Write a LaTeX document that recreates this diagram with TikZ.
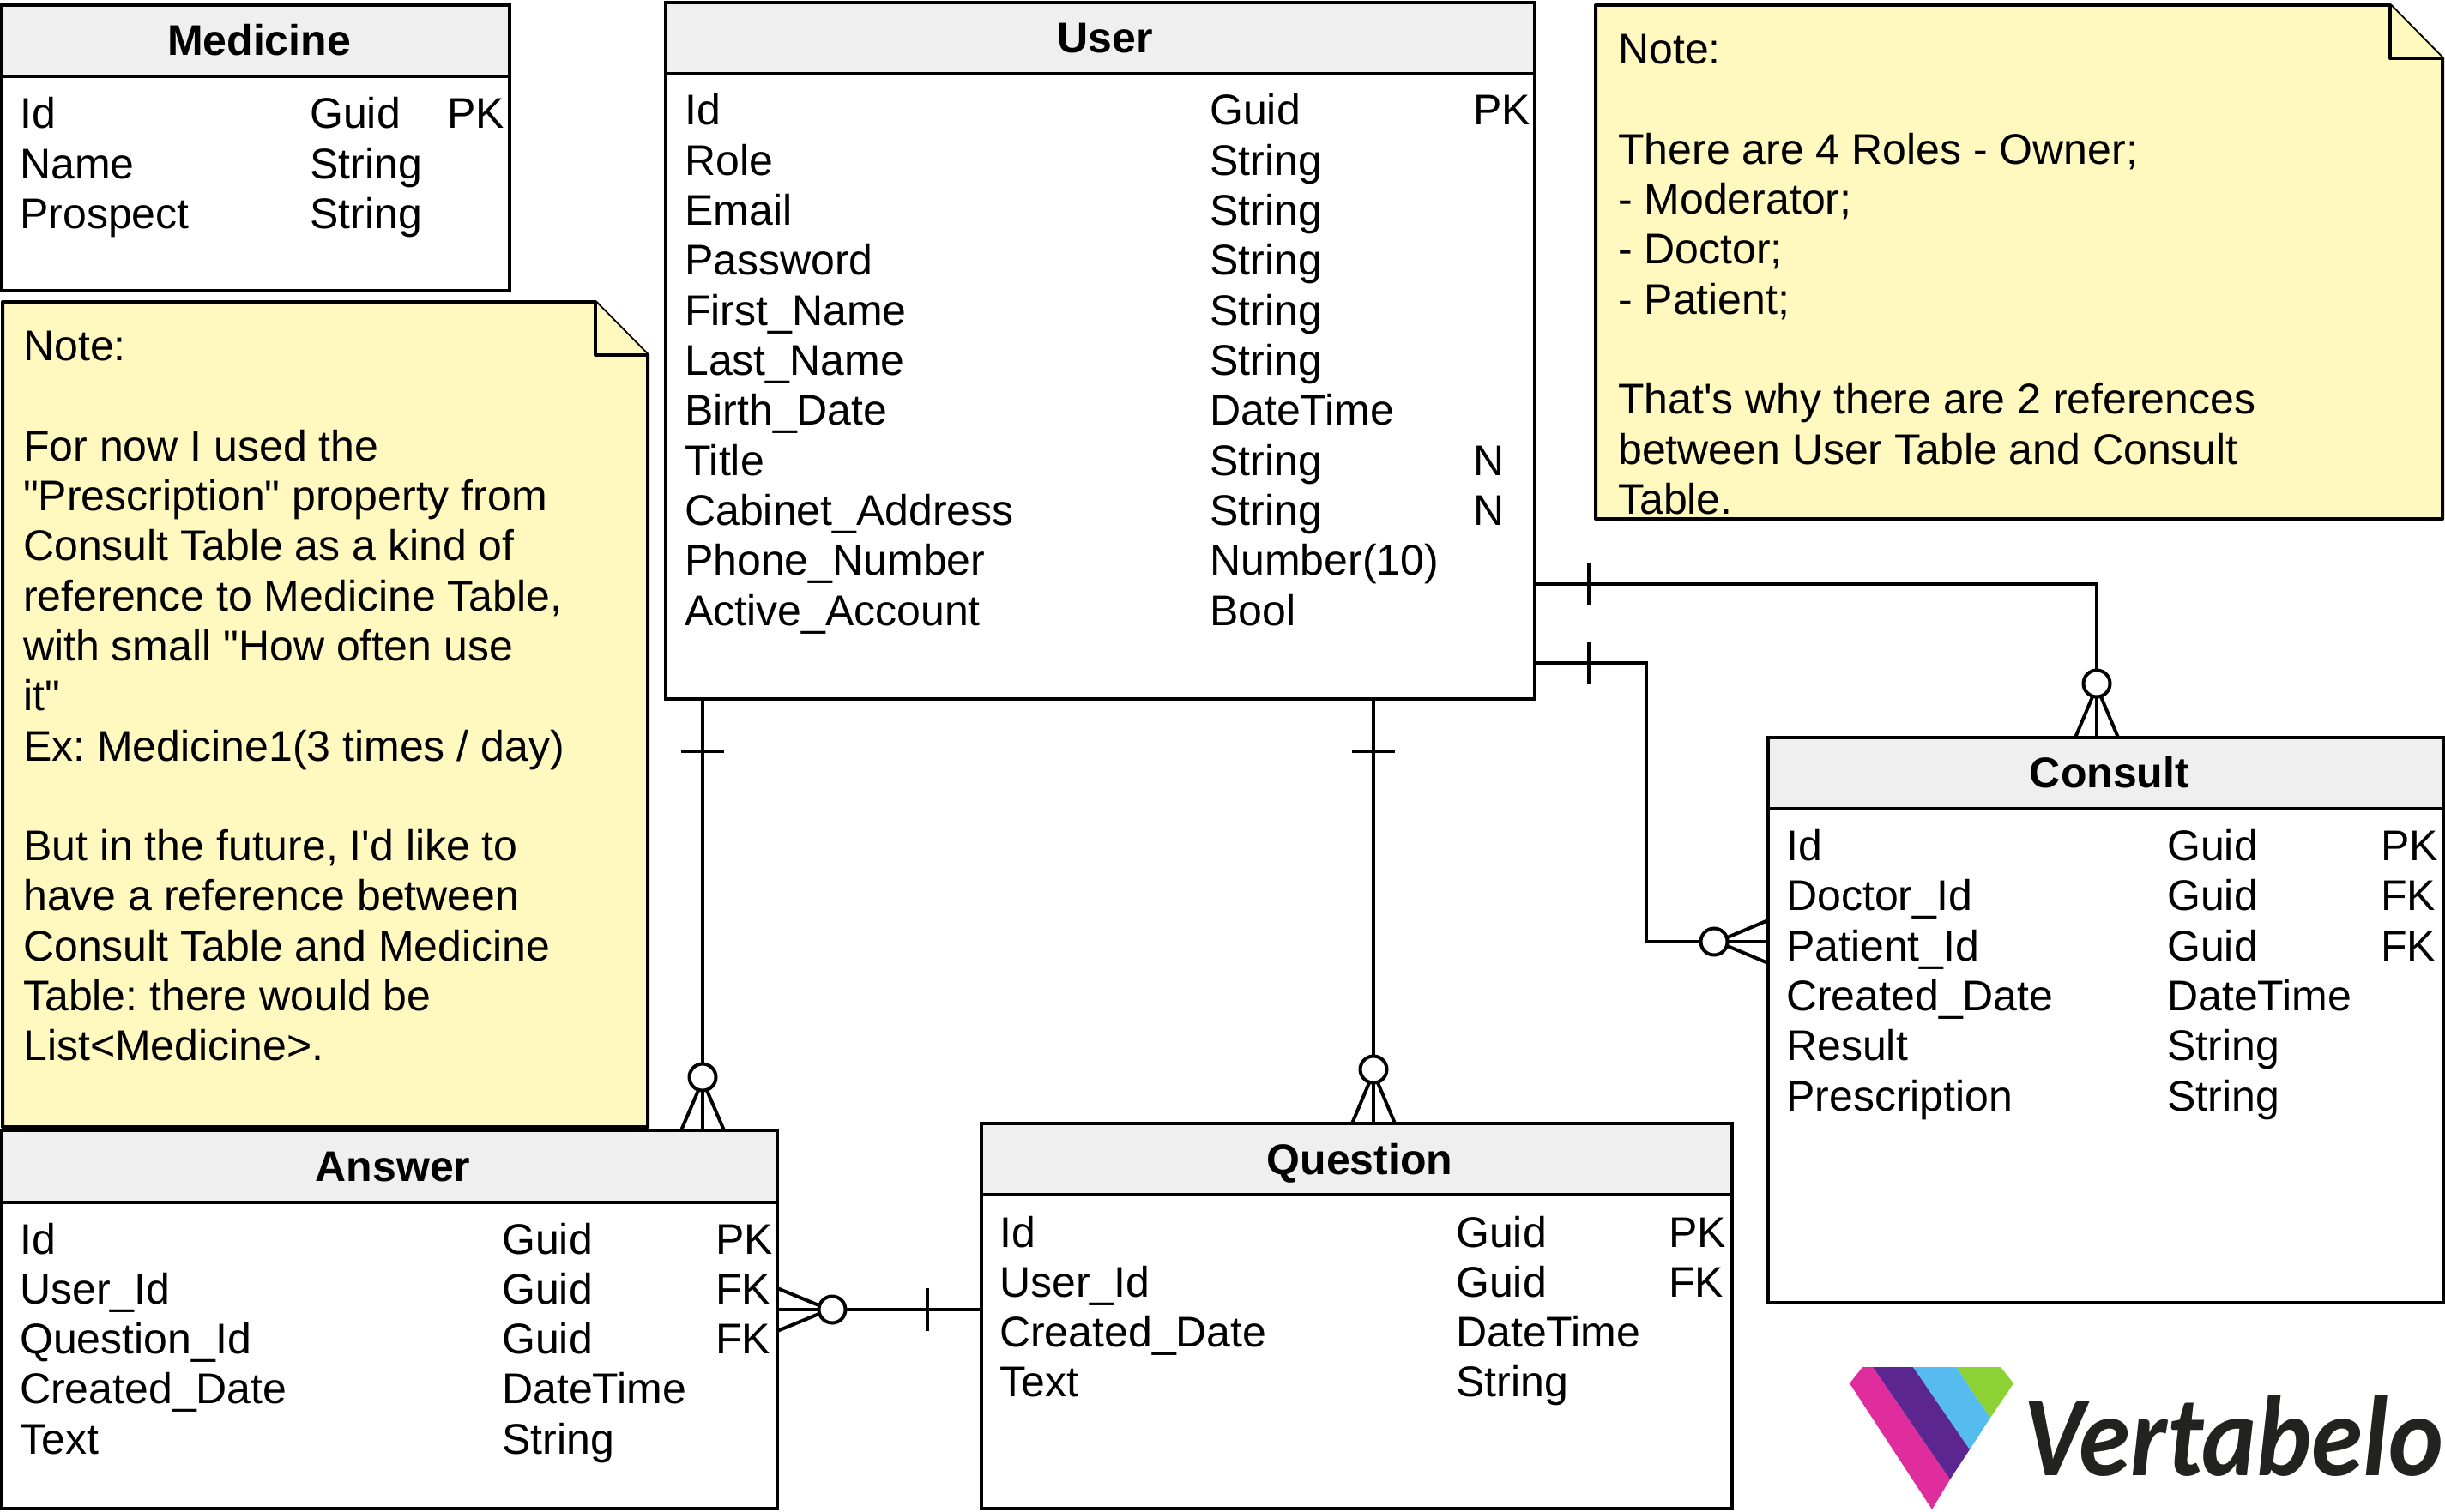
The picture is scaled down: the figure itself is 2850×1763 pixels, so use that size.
\documentclass[tikz,border=0pt]{standalone}
\usepackage{fontspec}
\usepackage{graphicx}
\newfontfamily\tablefont{Liberation Sans}
\newfontfamily\logofont{Carlito}
\definecolor{headgrey}{HTML}{EFEFEF}
\definecolor{notecolor}{HTML}{FFF8BF}
\definecolor{logopink}{HTML}{E02D9E}
\definecolor{logopurple}{HTML}{5C2690}
\definecolor{logoblue}{HTML}{56BBEE}
\definecolor{logogreen}{HTML}{8CD234}
\definecolor{logotext}{HTML}{222221}
\tikzset{
    tablebox/.style={draw, line width=4pt, anchor=north west, inner sep=0pt, outer sep=0pt, fill=white},
    headbox/.style={tablebox, fill=headgrey},
    title/.style={anchor=base, inner sep=0pt, font=\fontsize{50}{58.3}\tablefont\bfseries},
    row/.style={anchor=base west, inner sep=0pt, font=\fontsize{50}{58.3}\tablefont},
    notetext/.style={anchor=north west, inner sep=0pt, align=left, font=\fontsize{50}{58.3}\tablefont\frenchspacing},
    notepath/.style={draw, line width=4pt, fill=notecolor, line join=round},
    link/.style={draw, line width=4pt},
    tick/.style={draw, line width=3.5pt},
    zero/.style={circle, draw, line width=4pt, fill=white, minimum size=31pt, inner sep=0pt, outer sep=0pt}
}
\begin{document}
\begin{tikzpicture}[x=1pt, y=-1pt]
    \useasboundingbox (0, 0) rectangle (2850, 1763);

    % notes
    \draw[notepath] (3, 352) -- (694, 352) -- (755, 414) -- (755, 1314) -- (3, 1314) -- cycle;
    \draw[notepath] (694, 352) -- (694, 414) -- (755, 414);
    \node[notetext] (noteLeft) at (27, 386) {Note:\\[58.3pt]
        For now I used the\\
        "Prescription" property from\\
        Consult Table as a kind of\\
        reference to Medicine Table,\\
        with small "How often use\\
        it"\\
        Ex: Medicine1(3 times / day)\\[58.3pt]
        But in the future, I'd like to\\
        have a reference between\\
        Consult Table and Medicine\\
        Table: there would be\\
        List<Medicine>.};

    \draw[notepath] (1860, 6) -- (2786, 6) -- (2847, 68) -- (2847, 605) -- (1860, 605) -- cycle;
    \draw[notepath] (2786, 6) -- (2786, 68) -- (2847, 68);
    \node[notetext] (noteRight) at (1886, 40) {Note:\\[58.3pt]
        There are 4 Roles - Owner;\\
        - Moderator;\\
        - Doctor;\\
        - Patient;\\[58.3pt]
        That's why there are 2 references\\
        between User Table and Consult\\
        Table.};

    % tables
    \node[tablebox, minimum width=592pt, minimum height=333pt] (medicine) at (2, 6) {};
    \node[headbox, minimum width=592pt, minimum height=83pt] (medicineHead) at (2, 6) {};
    \node[title] (medicineTitle) at (302, 65) {Medicine};
    \foreach \i/\nm/\tp/\ky in {0/Id/Guid/PK, 1/Name/String/, 2/Prospect/String/} {
        \node[row] (medicineName\i) at (23, 150 + 58.3 * \i) {\nm};
        \node[row] (medicineType\i) at (361, 150 + 58.3 * \i) {\tp};
        \node[row] (medicineKey\i) at (521, 150 + 58.3 * \i) {\ky};
    }

    \node[tablebox, minimum width=1013pt, minimum height=812pt] (user) at (776, 3) {};
    \node[headbox, minimum width=1013pt, minimum height=83pt] (userHead) at (776, 3) {};
    \node[title] (userTitle) at (1288, 62) {User};
    \foreach \i/\nm/\tp/\ky in {0/Id/Guid/PK, 1/Role/String/, 2/Email/String/, 3/Password/String/,
        4/First\_Name/String/, 5/Last\_Name/String/, 6/Birth\_Date/DateTime/, 7/Title/String/N,
        8/Cabinet\_Address/String/N, 9/Phone\_Number/Number(10)/, 10/Active\_Account/Bool/} {
        \node[row] (userName\i) at (798, 146 + 58.3 * \i) {\nm};
        \node[row] (userType\i) at (1410, 146 + 58.3 * \i) {\tp};
        \node[row] (userKey\i) at (1717, 146 + 58.3 * \i) {\ky};
    }

    \node[tablebox, minimum width=787pt, minimum height=659pt] (consult) at (2061, 860) {};
    \node[headbox, minimum width=787pt, minimum height=83pt] (consultHead) at (2061, 860) {};
    \node[title] (consultTitle) at (2459, 918) {Consult};
    \foreach \i/\nm/\tp/\ky in {0/Id/Guid/PK, 1/Doctor\_Id/Guid/FK, 2/Patient\_Id/Guid/FK,
        3/Created\_Date/DateTime/, 4/Result/String/, 5/Prescription/String/} {
        \node[row] (consultName\i) at (2082, 1003.5 + 58.3 * \i) {\nm};
        \node[row] (consultType\i) at (2526, 1003.5 + 58.3 * \i) {\tp};
        \node[row] (consultKey\i) at (2775, 1003.5 + 58.3 * \i) {\ky};
    }

    \node[tablebox, minimum width=904pt, minimum height=441pt] (answer) at (2, 1318) {};
    \node[headbox, minimum width=904pt, minimum height=84pt] (answerHead) at (2, 1318) {};
    \node[title] (answerTitle) at (458, 1377) {Answer};
    \foreach \i/\nm/\tp/\ky in {0/Id/Guid/PK, 1/User\_Id/Guid/FK, 2/Question\_Id/Guid/FK,
        3/Created\_Date/DateTime/, 4/Text/String/} {
        \node[row] (answerName\i) at (23, 1462 + 58.3 * \i) {\nm};
        \node[row] (answerType\i) at (585, 1462 + 58.3 * \i) {\tp};
        \node[row] (answerKey\i) at (834, 1462 + 58.3 * \i) {\ky};
    }

    \node[tablebox, minimum width=875pt, minimum height=449pt] (question) at (1144, 1310) {};
    \node[headbox, minimum width=875pt, minimum height=83pt] (questionHead) at (1144, 1310) {};
    \node[title] (questionTitle) at (1585, 1369) {Question};
    \foreach \i/\nm/\tp/\ky in {0/Id/Guid/PK, 1/User\_Id/Guid/FK, 2/Created\_Date/DateTime/, 3/Text/String/} {
        \node[row] (questionName\i) at (1165, 1454 + 58.3 * \i) {\nm};
        \node[row] (questionType\i) at (1697, 1454 + 58.3 * \i) {\tp};
        \node[row] (questionKey\i) at (1945, 1454 + 58.3 * \i) {\ky};
    }

    % connectors
    \node[zero] (zeroConsultTop) at (2444, 797) {};
    \node[zero] (zeroConsultLeft) at (1998, 1098) {};
    \node[zero] (zeroAnswerTop) at (819, 1256) {};
    \node[zero] (zeroQuestionTop) at (1601, 1247) {};
    \node[zero] (zeroAnswerRight) at (970, 1527) {};

    \draw[link] ([yshift=134.5pt]user.south east) -| (zeroConsultTop.north);
    \draw[link] ([yshift=42pt]user.south east) -| (1919, 1098) -- (zeroConsultLeft.west);
    \draw[link] (user.south -| zeroAnswerTop) -- (zeroAnswerTop.north);
    \draw[link] (user.south -| zeroQuestionTop) -- (zeroQuestionTop.north);
    \draw[link] (zeroAnswerRight.east) -- (question.west |- zeroAnswerRight);

    % crow's feet
    \foreach \s/\t in {-25/-5, 0/0, 25/5} {
        \draw[link] ([xshift=\t pt]zeroConsultTop.south) -- ([xshift=\s pt]consult.north -| zeroConsultTop);
        \draw[link] ([xshift=\t pt]zeroAnswerTop.south) -- ([xshift=\s pt]answer.north -| zeroAnswerTop);
        \draw[link] ([xshift=\t pt]zeroQuestionTop.south) -- ([xshift=\s pt]question.north -| zeroQuestionTop);
        \draw[link] ([yshift=\t pt]zeroConsultLeft.east) -- ([yshift=\s pt]consult.west |- zeroConsultLeft);
        \draw[link] ([yshift=\t pt]zeroAnswerRight.west) -- ([yshift=\s pt]answer.east |- zeroAnswerRight);
    }

    % one marks
    \foreach \x/\y in {1852/681, 1852/773, 1081/1527} {
        \draw[tick] (\x, \y - 25) -- (\x, \y + 25);
    }
    \foreach \x/\y in {819/876, 1601/876} {
        \draw[tick] (\x - 25, \y) -- (\x + 25, \y);
    }

    % logo
    \fill[logopink] (2171, 1594) -- (2183, 1594) -- (2273, 1725) -- (2252, 1760) -- (2156, 1613) -- cycle;
    \fill[logopurple] (2183, 1594) -- (2230, 1594) -- (2296, 1690) -- (2273, 1725) -- cycle;
    \fill[logoblue] (2230, 1594) -- (2280, 1594) -- (2320, 1653) -- (2296, 1690) -- cycle;
    \fill[logogreen] (2280, 1594) -- (2332, 1594) -- (2347, 1613) -- (2320, 1653) -- cycle;
    \node[anchor=base west, inner sep=0pt, text=logotext, font=\fontsize{134}{134}\logofont\bfseries\itshape] (logoText) at (2358, 1720) {\scalebox{0.905}[1]{Vertabelo}};
\end{tikzpicture}
\end{document}
